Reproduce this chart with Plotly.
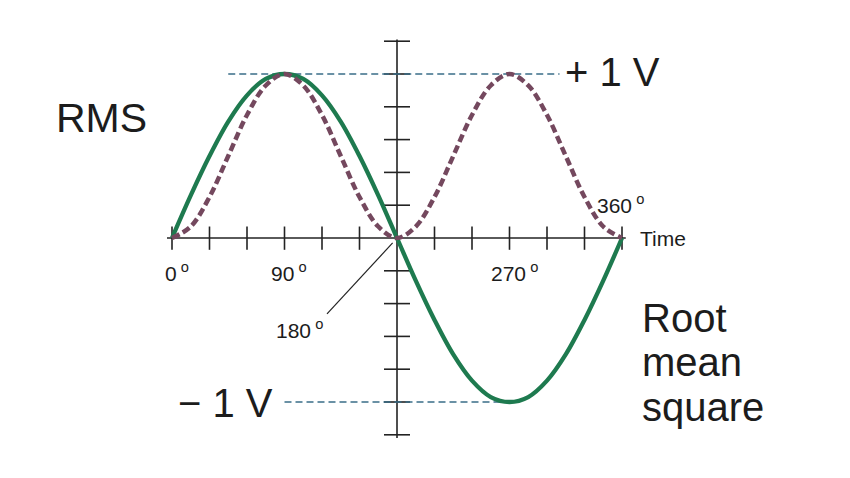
import plotly.graph_objects as go

# ---- data ----
angles = [0, 15, 30, 45, 60, 75, 90, 105, 120, 135, 150, 165, 180,
          195, 210, 225, 240, 255, 270, 285, 300, 315, 330, 345, 360]
voltage = [0, 0.26, 0.5, 0.71, 0.87, 0.97, 1.0, 0.97, 0.87, 0.71, 0.5, 0.26, 0,
           -0.26, -0.5, -0.71, -0.87, -0.97, -1.0, -0.97, -0.87, -0.71, -0.5, -0.26, 0]
squared = [0, 0.07, 0.25, 0.5, 0.75, 0.93, 1.0, 0.93, 0.75, 0.5, 0.25, 0.07, 0,
           0.07, 0.25, 0.5, 0.75, 0.93, 1.0, 0.93, 0.75, 0.5, 0.25, 0.07, 0]
x_ticks = [0, 30, 60, 90, 120, 150, 210, 240, 270, 300, 330, 360]
y_ticks = [-1.2, -1.0, -0.8, -0.6, -0.4, -0.2, 0.2, 0.4, 0.6, 0.8, 1.0, 1.2]
deg_labels = ["0", "90", "180", "270", "360"]

AX = "#232323"
GREEN = "#1e7a4f"
PURPLE = "#74485e"
BLUE = "#3a6d88"
FONT = "Liberation Sans, Arial, sans-serif"
OFF = 8  # page body margin

fig = go.Figure()

# reference dashed lines at +1 V and -1 V
fig.add_trace(go.Scatter(x=[45, 310], y=[1, 1], mode="lines",
                         line=dict(color=BLUE, width=1.5, dash="7px,4px"), hoverinfo="skip"))
fig.add_trace(go.Scatter(x=[90, 270], y=[-1, -1], mode="lines",
                         line=dict(color=BLUE, width=1.5, dash="7px,4px"), hoverinfo="skip"))

# axes
shapes = []
shapes.append(dict(type="line", x0=-4, x1=363, y0=0, y1=0, line=dict(color=AX, width=1.6), layer="below"))
shapes.append(dict(type="line", x0=180, x1=180, y0=-1.22, y1=1.21, line=dict(color=AX, width=1.6), layer="below"))
for t in x_ticks:
    shapes.append(dict(type="line", x0=t, x1=t, y0=-0.072, y1=0.07, line=dict(color=AX, width=1.6), layer="below"))
for t in y_ticks:
    shapes.append(dict(type="line", x0=169.6, x1=190.4, y0=t, y1=t, line=dict(color=AX, width=1.6), layer="below"))
# leader line for 180 label
shapes.append(dict(type="line", x0=124, y0=-0.463, x1=176.5, y1=-0.03, line=dict(color=AX, width=1.2)))

fig.add_trace(go.Scatter(x=angles, y=voltage, mode="lines", line_shape="spline",
                         line=dict(color=GREEN, width=4.3), hoverinfo="skip"))
fig.add_trace(go.Scatter(x=angles, y=squared, mode="lines", line_shape="spline",
                         line=dict(color=PURPLE, width=4.5, dash="8px,4px"), hoverinfo="skip"))


def px(xp, yp):
    return (xp - OFF) / 850.0, 1 - (yp - OFF) / 478.0


annots = []


def label(text, xp, yp, size, xanchor="center"):
    x, y = px(xp, yp)
    annots.append(dict(text=text, x=x, y=y, xref="paper", yref="paper", showarrow=False,
                       xanchor=xanchor, yanchor="middle",
                       font=dict(family=FONT, size=size, color="#1c1c1c")))


deg_pos = [(177, 272), (289, 272), (299, 329), (514, 272), (620, 204)]
for lab, (xp, yp) in zip(deg_labels, deg_pos):
    label(lab + "<sup> o</sup>", xp, yp, 21)
label("Time", 663, 238, 21)
label("RMS", 101, 118, 41)
label("+ 1 V", 612, 72, 40)
label("\u2212 1 V", 225, 403, 40)
label("Root", 640, 318, 40, "left")
label("mean", 640, 362, 40, "left")
label("square", 640, 407, 40, "left")

fig.update_layout(
    width=850, height=478,
    margin=dict(l=0, r=0, t=0, b=0),
    paper_bgcolor="white", plot_bgcolor="white",
    showlegend=False,
    xaxis=dict(range=[(0 + OFF - 172) / 1.25, (850 + OFF - 172) / 1.25], visible=False, fixedrange=True),
    yaxis=dict(range=[(238 - 478 - OFF) / 164.0, (238 - OFF) / 164.0], visible=False, fixedrange=True),
    shapes=shapes,
    annotations=annots,
)

fig.write_html("out.html")
